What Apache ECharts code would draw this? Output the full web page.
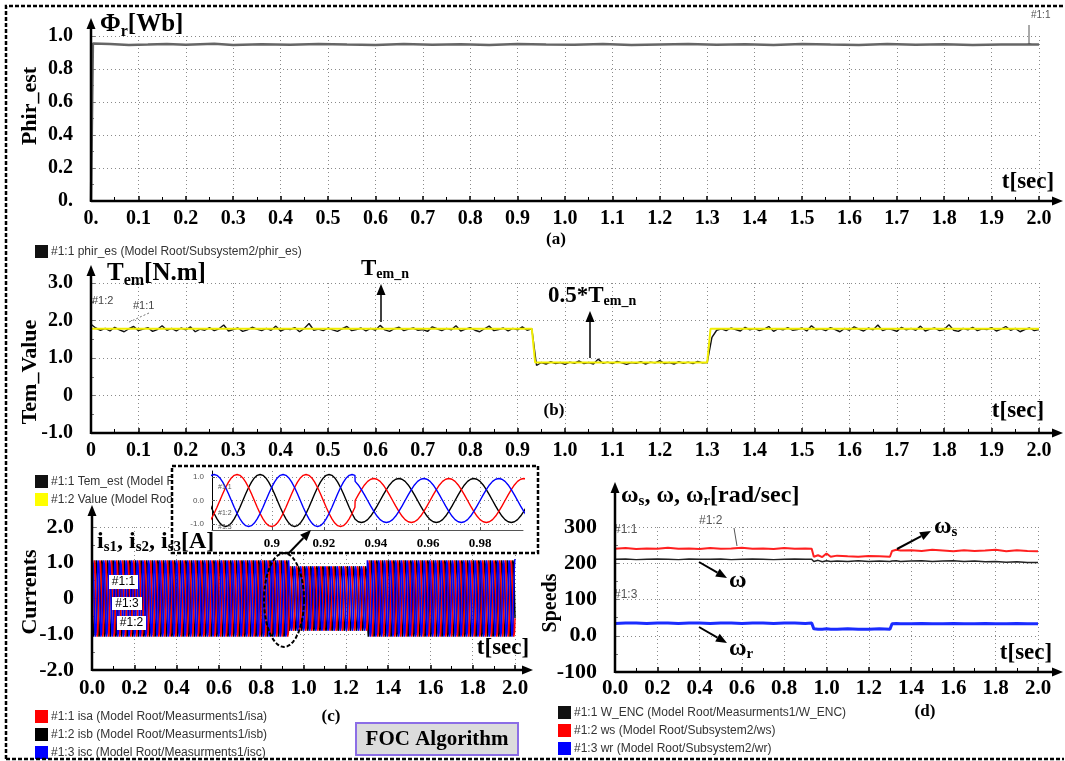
<!DOCTYPE html>
<html>
<head>
<meta charset="utf-8">
<script src="https://cdn.jsdelivr.net/npm/echarts@6/dist/echarts.min.js"></script>
<style>
html, body { margin: 0; padding: 0; background: #fff; }
#chart { width: 1065px; height: 761px; }
</style>
</head>
<body>
<div id="chart"></div>
<script>
// (a) estimated rotor flux
var phirT = [0, 0.004, 0.04, 0.08, 0.12, 0.16, 0.2, 0.26, 0.3, 0.36, 0.42, 0.48, 0.54, 0.6, 0.66, 0.72, 0.78, 0.84, 0.9, 0.96,
  1.02, 1.08, 1.14, 1.2, 1.26, 1.32, 1.38, 1.44, 1.5, 1.56, 1.62, 1.68, 1.74, 1.8, 1.86, 1.92, 1.975, 1.98, 1.985, 2.0]
var phirV = [0, 0.955, 0.952, 0.946, 0.948, 0.951, 0.947, 0.953, 0.946, 0.95, 0.947, 0.952, 0.948, 0.946, 0.951, 0.947, 0.95, 0.946, 0.952, 0.948,
  0.947, 0.951, 0.946, 0.949, 0.952, 0.947, 0.95, 0.946, 0.951, 0.948, 0.946, 0.952, 0.947, 0.95, 0.946, 0.949, 0.948, 0.95, 0.948, 0.949]

// (b) torque, Tem_est sampled every 0.01 s
var temEst = [
  1.90, 1.80, 1.74, 1.79, 1.72, 1.82, 1.75, 1.70, 1.78, 1.84,
  1.73, 1.77, 1.81, 1.71, 1.76, 1.86, 1.74, 1.79, 1.72, 1.80,
  1.75, 1.83, 1.70, 1.77, 1.74, 1.81, 1.73, 1.78, 1.88, 1.72,
  1.76, 1.80, 1.71, 1.75, 1.82, 1.77, 1.73, 1.79, 1.74, 1.85,
  1.72, 1.78, 1.76, 1.81, 1.70, 1.79, 1.92, 1.74, 1.77, 1.73,
  1.80, 1.75, 1.71, 1.78, 1.84, 1.73, 1.76, 1.80, 1.72, 1.79,
  1.74, 1.87, 1.75, 1.71, 1.78, 1.82, 1.73, 1.77, 1.80, 1.74,
  1.76, 1.71, 1.83, 1.78, 1.73, 1.79, 1.75, 1.86, 1.72, 1.77,
  1.81, 1.74, 1.70, 1.78, 1.85, 1.73, 1.76, 1.80, 1.72, 1.79,
  1.75, 1.83, 1.74, 1.78, 0.80, 0.88, 0.84, 0.90, 0.85, 0.88,
  0.83, 0.89, 0.86, 0.92, 0.85, 0.88, 0.84, 0.97, 0.86, 0.89,
  0.85, 0.91, 0.87, 0.83, 0.88, 0.86, 0.90, 0.84, 0.89, 0.87,
  0.93, 0.85, 0.88, 0.84, 0.90, 0.86, 0.89, 0.85, 0.91, 0.87,
  0.88, 1.55, 1.74, 1.78, 1.73, 1.80, 1.76, 1.72, 1.82, 1.75,
  1.79, 1.73, 1.77, 1.84, 1.71, 1.78, 1.75, 1.81, 1.74, 1.76,
  1.80, 1.72, 1.86, 1.75, 1.78, 1.73, 1.81, 1.76, 1.70, 1.79,
  1.74, 1.83, 1.77, 1.72, 1.80, 1.75, 1.88, 1.73, 1.78, 1.76,
  1.71, 1.82, 1.75, 1.79, 1.74, 1.85, 1.72, 1.77, 1.80, 1.73,
  1.76, 1.89, 1.74, 1.71, 1.79, 1.75, 1.82, 1.73, 1.78, 1.76,
  1.81, 1.72, 1.77, 1.84, 1.74, 1.79, 1.70, 1.76, 1.80, 1.73,
  1.76]
var temRefT = [0, 0.93, 0.937, 1.30, 1.307, 2.0]
var temRefV = [1.78, 1.78, 0.88, 0.88, 1.78, 1.78]

var curShape = [1, 0.97, 0.87, 0.71, 0.5, 0.26, 0, -0.26, -0.5, -0.71, -0.87, -0.97,
  -1, -0.97, -0.87, -0.71, -0.5, -0.26, 0, 0.26, 0.5, 0.71, 0.87, 0.97]
var curSegStart = [0, 0.932, 1.302]
var curSegEnd = [0.932, 1.302, 2.0]
var curAmp = [1.1, 0.93, 1.1]
var curPeriod = [0.0265, 0.0288, 0.0268]

// (d) speeds
var spdT = [0, 0.05, 0.1, 0.15, 0.2, 0.25, 0.3, 0.35, 0.4, 0.45, 0.5, 0.55, 0.6, 0.65, 0.7, 0.75, 0.8, 0.85, 0.9, 0.93,
  0.94, 0.96, 0.98, 1.0, 1.02, 1.05, 1.1, 1.15, 1.2, 1.25, 1.3,
  1.31, 1.33, 1.35, 1.4, 1.45, 1.5, 1.55, 1.6, 1.65, 1.7, 1.75, 1.8, 1.85, 1.9, 1.95, 2.0]
var wEnc = [211, 212, 210, 211, 212, 211, 210, 212, 211, 211, 212, 210, 211, 212, 211, 210, 211, 212, 211, 211,
  205, 208, 204, 207, 205, 206, 205, 207, 205, 206, 205,
  206, 207, 205, 206, 207, 205, 206, 207, 205, 206, 204, 205, 203, 204, 202, 202]
var wS = [240, 242, 239, 241, 240, 243, 240, 241, 239, 242, 240, 241, 243, 240, 241, 239, 242, 240, 241, 240,
  218, 222, 217, 227, 218, 221, 219, 218, 220, 219, 218,
  234, 237, 235, 236, 234, 237, 235, 233, 236, 234, 235, 237, 233, 236, 234, 233]
var wR = [34, 35, 35, 34, 35, 35, 34, 35, 35, 34, 35, 35, 34, 35, 35, 34, 35, 35, 34, 35,
  19, 18, 18, 19, 18, 18, 19, 18, 18, 19, 18,
  33, 34, 33, 33, 34, 33, 33, 34, 33, 33, 34, 33, 33, 34, 33, 33]

// tick labels
var xLabelsA = ['0.', '0.1', '0.2', '0.3', '0.4', '0.5', '0.6', '0.7', '0.8', '0.9', '1.0', '1.1', '1.2', '1.3', '1.4', '1.5', '1.6', '1.7', '1.8', '1.9', '2.0']
var xLabelsB = ['0', '0.1', '0.2', '0.3', '0.4', '0.5', '0.6', '0.7', '0.8', '0.9', '1.0', '1.1', '1.2', '1.3', '1.4', '1.5', '1.6', '1.7', '1.8', '1.9', '2.0']
var xLabelsCD = ['0.0', '0.2', '0.4', '0.6', '0.8', '1.0', '1.2', '1.4', '1.6', '1.8', '2.0']
var yLabelsA = ['0.', '0.2', '0.4', '0.6', '0.8', '1.0']
var yLabelsB = ['-1.0', '0', '1.0', '2.0', '3.0']
var yLabelsC = ['-2.0', '-1.0', '0', '1.0', '2.0']
var yLabelsD = ['-100', '0.0', '100', '200', '300']
var zoomTicks = [0.9, 0.92, 0.94, 0.96, 0.98]
var zoomLabels = ['0.9', '0.92', '0.94', '0.96', '0.98']
var zoomYTicks = [-1, 0, 1]
var zoomYLabels = ['-1.0', '0.0', '1.0']

var SERIF = '"Liberation Serif", "DejaVu Serif", serif'
var SANS = '"Liberation Sans", "DejaVu Sans", sans-serif'

// build current traces
var isa = [], isb = [], isc = []
var n = 0
for (var s = 0; s < curSegStart.length; s++) {
  var dt = curPeriod[s] / curShape.length
  for (var t = curSegStart[s]; t < curSegEnd[s]; t += dt) {
    var k = n + 21
    isc.push([t, curAmp[s] * curShape[k % 24]])
    isb.push([t, curAmp[s] * curShape[(k + 8) % 24]])
    isa.push([t, curAmp[s] * curShape[(k + 16) % 24]])
    n++
  }
}

var G = [
  { left: 91, top: 36, width: 948, height: 165 },
  { left: 91, top: 283, width: 948, height: 150 },
  { left: 92, top: 527, width: 423, height: 143 },
  { left: 615, top: 527, width: 423, height: 145 },
  { left: 212, top: 471, width: 311, height: 59 }
]

var dotted = { show: true, lineStyle: { color: '#8a8a8a', width: 1, type: [1, 3] } }

function xAx(gi, interval, labels, margin, size) {
  return {
    type: 'value', gridIndex: gi, min: 0, max: 2, interval: interval,
    axisLine: { onZero: false, lineStyle: { color: '#000', width: 2 } },
    axisTick: { inside: true, length: 5, lineStyle: { color: '#000', width: 1.5 } },
    minorTick: { show: true, splitNumber: 2, length: 4, lineStyle: { color: '#000', width: 1 } },
    axisLabel: {
      margin: margin, color: '#000', fontFamily: SERIF, fontWeight: 'bold', fontSize: size,
      showMinLabel: true, showMaxLabel: true,
      formatter: function (v) { return labels[Math.round(v / interval)] }
    },
    splitLine: dotted
  }
}

function yAx(gi, min, max, interval, labels, size) {
  return {
    type: 'value', gridIndex: gi, min: min, max: max, interval: interval, offset: 12,
    axisLine: { show: true, lineStyle: { color: '#777', width: 1 } },
    axisTick: { show: true, inside: true, length: 4, lineStyle: { color: '#777' } },
    minorTick: { show: true, splitNumber: 2, length: 3, lineStyle: { color: '#777' } },
    axisLabel: {
      margin: 6, color: '#000', fontFamily: SERIF, fontWeight: 'bold', fontSize: size,
      showMinLabel: true, showMaxLabel: true,
      formatter: function (v) { return labels[Math.round((v - min) / interval)] }
    },
    splitLine: dotted
  }
}

function pairs(ts, vs) { return ts.map(function (t, i) { return [t, vs[i]] }) }

function line(name, xi, data, color, width, z) {
  return {
    name: name, type: 'line', xAxisIndex: xi, yAxisIndex: xi, data: data,
    symbol: 'none', showSymbol: false, z: z,
    lineStyle: { color: color, width: width }
  }
}

// graphic helpers
function txt(x, y, str, font, color, align, rot, z) {
  return {
    type: 'text', x: x, y: y, z: z || 20, rotation: rot || 0,
    style: {
      text: str, font: font, fill: color || '#000',
      align: align || 'left', textAlign: align || 'left',
      verticalAlign: 'middle', textVerticalAlign: 'middle'
    }
  }
}

function rich(x, y, parts, big, small) {
  var str = parts.map(function (p) { return '{' + (p[1] ? 's' : 'b') + '|' + p[0] + '}' }).join('')
  return {
    type: 'text', x: x, y: y, z: 20,
    style: {
      text: str, align: 'left', textAlign: 'left', verticalAlign: 'middle', textVerticalAlign: 'middle',
      rich: {
        b: { fontFamily: SERIF, fontWeight: 'bold', fontSize: big, lineHeight: big + 2, verticalAlign: 'top', fill: '#000' },
        s: { fontFamily: SERIF, fontWeight: 'bold', fontSize: small, lineHeight: small, padding: [Math.round(big * 0.42), 0, 0, 0], verticalAlign: 'top', fill: '#000' }
      }
    }
  }
}

function rect(x, y, w, h, fill, stroke, lw, dash, z) {
  return {
    type: 'rect', z: z || 20, shape: { x: x, y: y, width: w, height: h },
    style: { fill: fill || 'none', stroke: stroke || 'none', lineWidth: lw || 0, lineDash: dash || null }
  }
}

function seg(points, color, width, dash, z) {
  return {
    type: 'polyline', z: z || 20, shape: { points: points },
    style: { stroke: color, lineWidth: width, fill: 'none', lineDash: dash || null }
  }
}

function arrow(x1, y1, x2, y2, w) {
  var dx = x2 - x1, dy = y2 - y1, len = Math.sqrt(dx * dx + dy * dy)
  var ux = dx / len, uy = dy / len, hl = 11, hw = 4.5
  var bx = x2 - ux * hl, by = y2 - uy * hl
  return [
    seg([[x1, y1], [bx, by]], '#000', w, null, 21),
    { type: 'polygon', z: 21, shape: { points: [[x2, y2], [bx - uy * hw, by + ux * hw], [bx + uy * hw, by - ux * hw]] }, style: { fill: '#000' } }
  ]
}

function legend(x, y, color, str) {
  return [rect(x, y - 6, 13, 13, color, null, 0, null, 1), txt(x + 16, y + 1, str, '12px ' + SANS, '#333', 'left', 0, 1)]
}

var bigT = 'bold 23px ' + SERIF
var capT = 'bold 17px ' + SERIF
var sideT = 'bold 22px ' + SERIF
var smallT = '11px ' + SANS

var ellipsePts = []
for (var a = 0; a <= 40; a++) {
  var ang = a / 40 * Math.PI * 2
  ellipsePts.push([284 + 20 * Math.cos(ang), 600 + 47 * Math.sin(ang)])
}

var g = [].concat(
  // outer dashed frame
  [seg([[6, 759], [6, 6], [1064, 6]], '#000', 2.5, [4, 2], 21),
   seg([[6, 759], [1064, 759]], '#000', 2.5, [4, 2], 21)],
  // axis arrows
  arrow(91, 202, 91, 18, 2.5), arrow(91, 201, 1063, 201, 2.5),
  arrow(91, 434, 91, 265, 2.5), arrow(91, 433, 1063, 433, 2.5),
  arrow(92, 671, 92, 505, 2.5), arrow(92, 670, 533, 670, 2.5),
  arrow(615, 673, 615, 482, 2.5), arrow(615, 672, 1063, 672, 2.5),
  // panel (a)
  [rich(100, 26, [['Φ'], ['r', 1], ['[Wb]']], 25, 16),
   txt(30, 106, 'Phir_est', sideT, '#000', 'center', Math.PI / 2),
   txt(1028, 182, 't[sec]', bigT, '#000', 'center'),
   txt(1031, 15, '#1:1', '10px ' + SANS, '#555'),
   seg([[1029, 25], [1029, 44]], '#555', 1),
   txt(556, 240, '(a)', capT, '#000', 'center')],
  legend(35, 251, '#111', '#1:1 phir_es (Model Root/Subsystem2/phir_es)'),
  // panel (b)
  [rich(107, 275, [['T'], ['em', 1], ['[N.m]']], 25, 16),
   txt(30, 372, 'Tem_Value', sideT, '#000', 'center', Math.PI / 2),
   txt(92, 301, '#1:2', smallT, '#444'),
   txt(133, 306, '#1:1', smallT, '#444'),
   seg([[149, 313], [127, 323]], '#777', 1, [2, 2]),
   rich(361, 270, [['T'], ['em_n', 1]], 23, 14),
   rich(548, 297, [['0.5*T'], ['em_n', 1]], 23, 14),
   txt(1018, 411, 't[sec]', bigT, '#000', 'center'),
   txt(554, 411, '(b)', capT, '#000', 'center')],
  arrow(381, 322, 381, 284, 1.5),
  arrow(590, 358, 590, 311, 1.5),
  legend(35, 481, '#111', '#1:1 Tem_est (Model Root/Subsystem2/Tem_est)'),
  legend(35, 499, '#ffff00', '#1:2 Value (Model Root/Constant/Value)'),
  // zoom window of (c)
  [rect(172, 466, 366, 87, '#fff', '#000', 2.5, [4, 2], 3),
   txt(218, 487, '#1:1', '7px ' + SANS, '#555'),
   txt(218, 513, '#1:2', '7px ' + SANS, '#555'),
   txt(218, 527, '#1:3', '7px ' + SANS, '#555')],
  // panel (c)
  [rich(97, 543, [['i'], ['s1', 1], [', i'], ['s2', 1], [', i'], ['s3', 1], ['[A]']], 24, 15),
   txt(30, 592, 'Currents', sideT, '#000', 'center', Math.PI / 2),
   rect(109, 575, 29, 14, '#fff'), txt(123.5, 582, '#1:1', '12px ' + SANS, '#000', 'center', 0, 21),
   rect(112, 597, 30, 13, '#fff'), txt(127, 604, '#1:3', '12px ' + SANS, '#000', 'center', 0, 21),
   rect(117, 616, 29, 14, '#fff'), txt(131.5, 623, '#1:2', '12px ' + SANS, '#000', 'center', 0, 21),
   txt(503, 648, 't[sec]', bigT, '#000', 'center'),
   txt(331, 717, '(c)', capT, '#000', 'center'),
   seg(ellipsePts, '#000', 2, [4, 2], 21),
   rect(356, 723, 162, 32, '#dcdcdc', '#8c6ee6', 2),
   txt(437, 740, 'FOC Algorithm', 'bold 21px ' + SERIF, '#000', 'center', 0, 21)],
  arrow(288, 554, 311, 530, 2),
  legend(35, 716, '#ff0000', '#1:1 isa (Model Root/Measurments1/isa)'),
  legend(35, 734, '#000', '#1:2 isb (Model Root/Measurments1/isb)'),
  legend(35, 752, '#0000ff', '#1:3 isc (Model Root/Measurments1/isc)'),
  // panel (d)
  [rich(621, 497, [['ω'], ['s', 1], [', ω, ω'], ['r', 1], ['[rad/sec]']], 24, 15),
   txt(551, 603, 'Speeds', 'bold 20px ' + SERIF, '#000', 'center', Math.PI / 2),
   txt(614, 530, '#1:1', '12px ' + SANS, '#555'),
   txt(699, 521, '#1:2', '12px ' + SANS, '#555'),
   txt(614, 595, '#1:3', '12px ' + SANS, '#555'),
   seg([[734, 528], [737, 546]], '#555', 1),
   rich(934, 528, [['ω'], ['s', 1]], 24, 15),
   rich(729, 582, [['ω']], 24, 15),
   rich(729, 650, [['ω'], ['r', 1]], 24, 15),
   txt(1026, 653, 't[sec]', bigT, '#000', 'center'),
   txt(925, 712, '(d)', capT, '#000', 'center')],
  arrow(897, 549, 931, 531, 2),
  arrow(699, 562, 727, 578, 2),
  arrow(699, 627, 727, 643, 2),
  legend(558, 712, '#111', '#1:1 W_ENC (Model Root/Measurments1/W_ENC)'),
  legend(558, 730, '#ff0000', '#1:2 ws (Model Root/Subsystem2/ws)'),
  legend(558, 748, '#0000ff', '#1:3 wr (Model Root/Subsystem2/wr)')
)

var option = {
  animation: false,
  backgroundColor: '#fff',
  grid: G,
  xAxis: [
    xAx(0, 0.1, xLabelsA, 8, 20),
    xAx(1, 0.1, xLabelsB, 8, 20),
    xAx(2, 0.2, xLabelsCD, 8, 21),
    xAx(3, 0.2, xLabelsCD, 6, 21),
    {
      type: 'value', gridIndex: 4, min: 0.877, max: 0.9965, z: 4,
      axisLine: { onZero: false, lineStyle: { color: '#555', width: 1 } },
      axisTick: { customValues: zoomTicks, length: 3, inside: true, lineStyle: { color: '#555' } },
      axisLabel: {
        customValues: zoomTicks, margin: 7, color: '#000', fontFamily: SERIF, fontWeight: 'bold', fontSize: 13,
        formatter: function (v) { return zoomLabels[zoomTicks.indexOf(Math.round(v * 100) / 100)] }
      },
      splitLine: dotted
    }
  ],
  yAxis: [
    yAx(0, 0, 1, 0.2, yLabelsA, 20),
    yAx(1, -1, 3, 1, yLabelsB, 20),
    yAx(2, -2, 2, 1, yLabelsC, 22),
    yAx(3, -100, 300, 100, yLabelsD, 22),
    {
      type: 'value', gridIndex: 4, min: -1.25, max: 1.25, z: 4,
      axisLine: { show: true, lineStyle: { color: '#000', width: 1 } },
      axisTick: { show: true, customValues: zoomYTicks, inside: true, length: 3, lineStyle: { color: '#555' } },
      axisLabel: {
        customValues: zoomYTicks, margin: 8, color: '#555', fontFamily: SANS, fontSize: 8,
        formatter: function (v) { return zoomYLabels[zoomYTicks.indexOf(Math.round(v))] }
      },
      splitLine: dotted
    }
  ],
  series: [
    line('phir_es', 0, pairs(phirT, phirV), '#666', 2.5, 3),
    line('Tem_est', 1, temEst.map(function (v, i) { return [i * 0.01, v] }), '#111', 1.4, 3),
    line('Value', 1, pairs(temRefT, temRefV), '#f2ee00', 2, 4),
    line('isb', 2, isb, '#000', 1.5, 2),
    line('isa', 2, isa, '#ff0000', 1.5, 2),
    line('isc', 2, isc, '#0000ff', 1.5, 2),
    line('W_ENC', 3, pairs(spdT, wEnc), '#222', 1.5, 3),
    line('ws', 3, pairs(spdT, wS), '#ff2020', 2, 3),
    line('wr', 3, pairs(spdT, wR), '#1a2cff', 3, 3),
    line('isb zoom', 4, isb, '#000', 1.4, 5),
    line('isa zoom', 4, isa, '#ff0000', 1.4, 5),
    line('isc zoom', 4, isc, '#0000ff', 1.4, 5)
  ],
  graphic: { elements: g }
}

var chart = echarts.init(document.getElementById('chart'))
chart.setOption(option)
</script>
</body>
</html>
